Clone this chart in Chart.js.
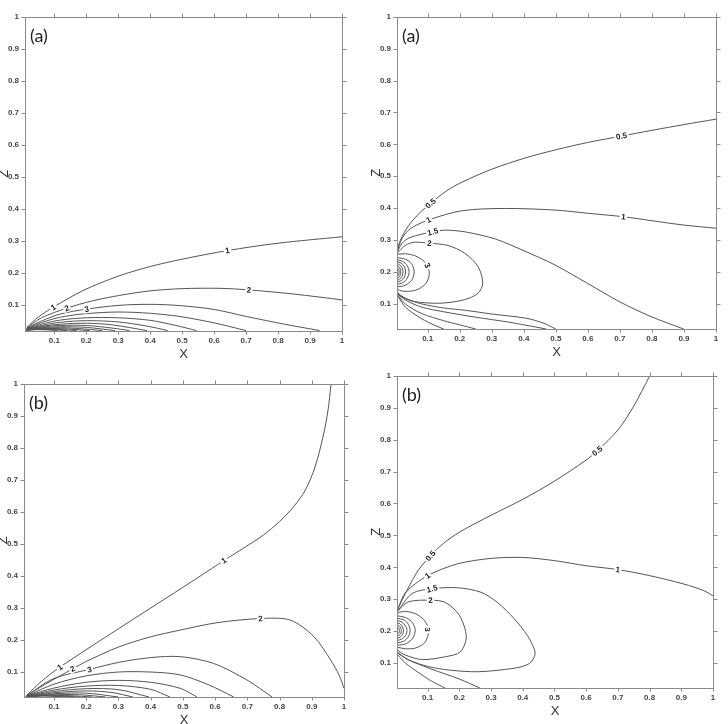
<!DOCTYPE html>
<html><head><meta charset="utf-8">
<script src="https://cdn.jsdelivr.net/npm/chart.js@4/dist/chart.umd.min.js"></script>
<style>
html,body{margin:0;padding:0;background:#fff;}
body{width:728px;height:724px;position:relative;overflow:hidden;}
canvas{position:absolute;}
</style></head>
<body>
<canvas id="c1"></canvas><canvas id="c2"></canvas><canvas id="c3"></canvas><canvas id="c4"></canvas>
<script>
// ---------- tick values ----------
const xTicks = [0.1,0.2,0.3,0.4,0.5,0.6,0.7,0.8,0.9,1];
const zTicks = [0.1,0.2,0.3,0.4,0.5,0.6,0.7,0.8,0.9,1];
const xTitle = 'X', zTitle = 'Z';

// ---------- panel (a) left : contour lines [x, z] ----------
const A1_c1 = [[0.014,0.03],[0.05,0.062],[0.097,0.093],[0.19,0.145],[0.3,0.19],[0.4,0.22],[0.5,0.243],[0.642,0.27],[0.8,0.293],[1.0,0.313]];
const A1_c2 = [[0.014,0.028],[0.06,0.06],[0.139,0.09],[0.22,0.113],[0.305,0.13],[0.4,0.144],[0.5,0.151],[0.618,0.152],[0.709,0.147],[0.85,0.134],[1.0,0.116]];
const A1_c3 = [[0.014,0.027],[0.06,0.05],[0.12,0.072],[0.201,0.087],[0.305,0.099],[0.4,0.102],[0.493,0.098],[0.6,0.086],[0.701,0.064],[0.82,0.04],[0.93,0.02]];
const A1_c4 = [[0.014,0.026],[0.06,0.045],[0.12,0.062],[0.2,0.073],[0.3,0.078],[0.4,0.074],[0.493,0.064],[0.6,0.044],[0.70,0.02]];
const A1_c5 = [[0.014,0.025],[0.06,0.04],[0.12,0.053],[0.2,0.06],[0.3,0.06],[0.4,0.052],[0.48,0.036],[0.545,0.02]];
const A1_c6 = [[0.014,0.025],[0.06,0.036],[0.12,0.046],[0.2,0.051],[0.3,0.047],[0.39,0.034],[0.455,0.02]];
const A1_c7 = [[0.014,0.024],[0.06,0.033],[0.12,0.04],[0.2,0.043],[0.28,0.038],[0.39,0.02]];
const A1_c8 = [[0.014,0.024],[0.06,0.031],[0.12,0.036],[0.2,0.036],[0.28,0.028],[0.335,0.02]];
const A1_c9 = [[0.014,0.023],[0.06,0.029],[0.12,0.032],[0.2,0.03],[0.29,0.02]];
const A1_c10 = [[0.014,0.023],[0.06,0.027],[0.12,0.029],[0.18,0.026],[0.25,0.02]];
const A1_c11 = [[0.014,0.022],[0.06,0.026],[0.12,0.026],[0.21,0.02]];
const A1_c12 = [[0.014,0.022],[0.06,0.025],[0.11,0.024],[0.17,0.02]];
const A1_c13 = [[0.012,0.021],[0.05,0.024],[0.09,0.023],[0.14,0.02]];
const A1_c14 = [[0.012,0.021],[0.04,0.023],[0.08,0.022],[0.11,0.02]];
const A1_labels = [['1',0.097,0.093],['2',0.139,0.09],['3',0.201,0.087],['1',0.642,0.27],['2',0.709,0.147]];

// ---------- panel (a) right ----------
const A2_c05 = [[0.004,0.265],[0.015,0.3],[0.04,0.345],[0.075,0.385],[0.109,0.415],[0.16,0.455],[0.208,0.482],[0.3,0.522],[0.4,0.556],[0.5,0.583],[0.6,0.606],[0.705,0.626],[0.8,0.644],[0.9,0.662],[1.0,0.679]];
const A2_c1 = [[0.004,0.262],[0.02,0.305],[0.045,0.335],[0.103,0.363],[0.208,0.392],[0.343,0.399],[0.497,0.394],[0.599,0.384],[0.711,0.373],[0.797,0.361],[0.899,0.347],[1.0,0.337]];
const A2_c15 = [[0.004,0.26],[0.02,0.29],[0.045,0.308],[0.116,0.326],[0.156,0.331],[0.22,0.325],[0.312,0.303],[0.401,0.266],[0.497,0.222],[0.599,0.164],[0.698,0.107],[0.797,0.06],[0.899,0.021]];
const A2_c2 = [[0.004,0.258],[0.03,0.283],[0.058,0.293],[0.105,0.29],[0.163,0.283],[0.215,0.259],[0.257,0.217],[0.272,0.165],[0.257,0.133],[0.215,0.113],[0.142,0.102],[0.058,0.107],[0.017,0.123],[0.004,0.139]];
const A2_c3 = [[0.004,0.255],[0.03,0.257],[0.062,0.25],[0.09,0.232],[0.104,0.205],[0.104,0.186],[0.095,0.165],[0.075,0.148],[0.05,0.14],[0.02,0.14],[0.004,0.146]];
const A2_c4 = [[0.004,0.245],[0.03,0.24],[0.05,0.225],[0.058,0.2],[0.05,0.174],[0.03,0.158],[0.004,0.153]];
const A2_c5 = [[0.004,0.238],[0.022,0.233],[0.036,0.22],[0.042,0.2],[0.036,0.18],[0.022,0.166],[0.004,0.161]];
const A2_c6 = [[0.004,0.232],[0.016,0.228],[0.027,0.217],[0.031,0.2],[0.027,0.183],[0.016,0.172],[0.004,0.168]];
const A2_c7 = [[0.004,0.226],[0.012,0.223],[0.02,0.213],[0.023,0.2],[0.02,0.187],[0.012,0.177],[0.004,0.174]];
const A2_c8 = [[0.004,0.22],[0.01,0.217],[0.014,0.21],[0.016,0.2],[0.014,0.19],[0.01,0.183],[0.004,0.18]];
const A2_c9 = [[0.004,0.213],[0.008,0.211],[0.011,0.2],[0.008,0.189],[0.004,0.187]];
const A2_b1 = [[0.004,0.135],[0.03,0.118],[0.08,0.1],[0.15,0.087],[0.215,0.08],[0.3,0.068],[0.406,0.055],[0.46,0.04],[0.5,0.021]];
const A2_b2 = [[0.004,0.133],[0.03,0.112],[0.08,0.09],[0.15,0.075],[0.25,0.058],[0.35,0.043],[0.406,0.033],[0.47,0.021]];
const A2_b3 = [[0.004,0.131],[0.03,0.1],[0.08,0.07],[0.15,0.047],[0.2,0.034],[0.25,0.021]];
const A2_b4 = [[0.004,0.129],[0.03,0.09],[0.07,0.06],[0.11,0.038],[0.15,0.021]];
const A2_labels = [['0.5',0.109,0.415],['1',0.103,0.363],['1.5',0.116,0.326],['2',0.105,0.29],['3',0.099,0.22],['0.5',0.705,0.626],['1',0.711,0.373]];

// ---------- panel (b) left ----------
const B1_c1 = [[0.015,0.027],[0.06,0.07],[0.118,0.115],[0.3,0.235],[0.45,0.332],[0.55,0.397],[0.627,0.448],[0.69,0.488],[0.75,0.528],[0.8,0.57],[0.845,0.618],[0.88,0.668],[0.91,0.74],[0.935,0.835],[0.95,0.915],[0.96,1.0]];
const B1_c2 = [[0.015,0.026],[0.07,0.06],[0.158,0.11],[0.2,0.133],[0.3,0.178],[0.4,0.21],[0.492,0.231],[0.606,0.254],[0.741,0.267],[0.834,0.262],[0.907,0.21],[0.959,0.137],[0.985,0.09],[1.0,0.049]];
const B1_c3 = [[0.015,0.026],[0.1,0.08],[0.21,0.108],[0.3,0.13],[0.4,0.145],[0.492,0.148],[0.595,0.127],[0.699,0.075],[0.777,0.022]];
const B1_c4 = [[0.015,0.025],[0.1,0.062],[0.2,0.088],[0.3,0.1],[0.4,0.1],[0.492,0.091],[0.58,0.06],[0.658,0.022]];
const B1_c5 = [[0.015,0.025],[0.1,0.05],[0.2,0.068],[0.3,0.074],[0.4,0.068],[0.492,0.049],[0.544,0.022]];
const B1_c6 = [[0.015,0.024],[0.1,0.044],[0.2,0.056],[0.3,0.058],[0.4,0.046],[0.46,0.022]];
const B1_c7 = [[0.015,0.024],[0.1,0.039],[0.2,0.048],[0.3,0.045],[0.395,0.022]];
const B1_c8 = [[0.015,0.023],[0.1,0.035],[0.2,0.041],[0.28,0.036],[0.345,0.022]];
const B1_c9 = [[0.015,0.023],[0.1,0.032],[0.2,0.034],[0.3,0.022]];
const B1_c10 = [[0.015,0.023],[0.1,0.029],[0.18,0.029],[0.26,0.022]];
const B1_c11 = [[0.015,0.023],[0.08,0.027],[0.15,0.026],[0.22,0.022]];
const B1_c12 = [[0.012,0.022],[0.06,0.026],[0.12,0.025],[0.18,0.022]];
const B1_c13 = [[0.012,0.022],[0.05,0.025],[0.1,0.024],[0.145,0.022]];
const B1_labels = [['1',0.118,0.115],['2',0.158,0.11],['3',0.21,0.108],['1',0.627,0.448],['2',0.741,0.267]];

// ---------- panel (b) right ----------
const B2_c05 = [[0.004,0.265],[0.037,0.332],[0.07,0.39],[0.109,0.436],[0.15,0.475],[0.2,0.51],[0.3,0.563],[0.4,0.613],[0.5,0.67],[0.6,0.736],[0.635,0.765],[0.7,0.83],[0.75,0.905],[0.8,0.999]];
const B2_c1 = [[0.004,0.263],[0.03,0.32],[0.1,0.374],[0.195,0.411],[0.3,0.428],[0.4,0.431],[0.5,0.421],[0.6,0.405],[0.7,0.393],[0.8,0.374],[0.907,0.348],[0.971,0.327],[1.0,0.311]];
const B2_c15 = [[0.004,0.26],[0.051,0.318],[0.114,0.333],[0.195,0.336],[0.268,0.322],[0.32,0.29],[0.373,0.239],[0.415,0.186],[0.436,0.145],[0.438,0.124],[0.42,0.098],[0.373,0.084],[0.26,0.073],[0.17,0.078],[0.103,0.089],[0.04,0.11],[0.004,0.135]];
const B2_c2 = [[0.004,0.263],[0.04,0.292],[0.109,0.297],[0.156,0.29],[0.2,0.25],[0.222,0.182],[0.203,0.135],[0.156,0.12],[0.084,0.111],[0.03,0.125],[0.004,0.141]];
const B2_c3 = [[0.004,0.258],[0.03,0.262],[0.061,0.255],[0.088,0.236],[0.102,0.21],[0.102,0.19],[0.09,0.163],[0.061,0.147],[0.03,0.145],[0.004,0.15]];
const B2_c4 = [[0.004,0.248],[0.03,0.243],[0.052,0.227],[0.061,0.202],[0.052,0.176],[0.03,0.16],[0.004,0.156]];
const B2_c5 = [[0.004,0.24],[0.024,0.236],[0.039,0.222],[0.045,0.202],[0.039,0.182],[0.024,0.168],[0.004,0.164]];
const B2_c6 = [[0.004,0.233],[0.018,0.229],[0.03,0.217],[0.035,0.202],[0.03,0.186],[0.018,0.175],[0.004,0.171]];
const B2_c7 = [[0.004,0.226],[0.013,0.223],[0.021,0.213],[0.024,0.202],[0.021,0.19],[0.013,0.181],[0.004,0.178]];
const B2_c8 = [[0.004,0.219],[0.011,0.216],[0.016,0.209],[0.017,0.202],[0.016,0.194],[0.011,0.188],[0.004,0.185]];
const B2_c9 = [[0.004,0.212],[0.009,0.21],[0.011,0.202],[0.009,0.194],[0.004,0.192]];
const B2_b1 = [[0.004,0.132],[0.04,0.11],[0.11,0.082],[0.2,0.05],[0.265,0.022]];
const B2_b2 = [[0.004,0.128],[0.03,0.1],[0.069,0.072],[0.11,0.045],[0.155,0.022]];
const B2_labels = [['0.5',0.109,0.436],['1',0.1,0.374],['1.5',0.114,0.333],['2',0.109,0.297],['3',0.1,0.205],['0.5',0.635,0.765],['1',0.7,0.393]];

// ---------- layout of the four panels (plot-area pixel boxes) ----------
const panels = [
  {id:'c1', L:25, T:16, R:342, B:331, xmin:0.0084, zmin:0.0187, letter:'(a)',
   lines:[A1_c1,A1_c2,A1_c3,A1_c4,A1_c5,A1_c6,A1_c7,A1_c8,A1_c9,A1_c10,A1_c11,A1_c12,A1_c13,A1_c14], labels:A1_labels},
  {id:'c2', L:397, T:16, R:716, B:329, xmin:0.0042, zmin:0.021, letter:'(a)',
   lines:[A2_c05,A2_c1,A2_c15,A2_c2,A2_c3,A2_c4,A2_c5,A2_c6,A2_c7,A2_c8,A2_c9,A2_b1,A2_b2,A2_b3,A2_b4], labels:A2_labels},
  {id:'c3', L:24, T:383, R:344, B:697, xmin:0.007, zmin:0.022, letter:'(b)',
   lines:[B1_c1,B1_c2,B1_c3,B1_c4,B1_c5,B1_c6,B1_c7,B1_c8,B1_c9,B1_c10,B1_c11,B1_c12,B1_c13], labels:B1_labels},
  {id:'c4', L:397, T:375, R:713, B:688, xmin:0.0035, zmin:0.022, letter:'(b)',
   lines:[B2_c05,B2_c1,B2_c15,B2_c2,B2_c3,B2_c4,B2_c5,B2_c6,B2_c7,B2_c8,B2_c9,B2_b1,B2_b2], labels:B2_labels}
];

const fmt = v => (Math.abs(v-1) < 1e-9 ? '1' : (Math.round(v*10)/10).toFixed(1));
const TICKFONT = {family:'"Liberation Sans", Arial, sans-serif', size:8, weight:'bold'};
const FRAME = '#8a8a8a';

function decor(p){
  return {
    id:'decor_'+p.id,
    afterDatasetsDraw(chart){
      const {ctx, scales:{x, y}} = chart;
      ctx.save();
      ctx.font = 'bold 8px "Liberation Sans", Arial, sans-serif';
      ctx.textAlign = 'center'; ctx.textBaseline = 'middle';
      p.labels.forEach(([t, lx, lz]) => {
        const px = x.getPixelForValue(lx), py = y.getPixelForValue(lz);
        let best = 1e9, ang = 0;
        chart.data.datasets.forEach(ds => {
          const d = ds.data;
          for (let i = 0; i < d.length-1; i++){
            const x1 = x.getPixelForValue(d[i].x), y1 = y.getPixelForValue(d[i].y);
            const x2 = x.getPixelForValue(d[i+1].x), y2 = y.getPixelForValue(d[i+1].y);
            const dx = x2-x1, dy = y2-y1, L2 = dx*dx+dy*dy || 1;
            let u = ((px-x1)*dx + (py-y1)*dy)/L2; u = Math.max(0, Math.min(1, u));
            const qx = x1+u*dx-px, qy = y1+u*dy-py, dist = qx*qx+qy*qy;
            if (dist < best){ best = dist; ang = Math.atan2(dy, dx); }
          }
        });
        if (ang > Math.PI/2) ang -= Math.PI;
        if (ang < -Math.PI/2) ang += Math.PI;
        const w = ctx.measureText(t).width;
        ctx.save();
        ctx.translate(px, py); ctx.rotate(ang);
        ctx.fillStyle = '#fff'; ctx.fillRect(-w/2-1.5, -4, w+3, 8);
        ctx.fillStyle = '#222'; ctx.fillText(t, 0, 0.5);
        ctx.restore();
      });
      ctx.restore();
    },
    afterDraw(chart){
      const {ctx, chartArea:a, scales:{x, y}} = chart;
      ctx.save();
      ctx.strokeStyle = FRAME; ctx.lineWidth = 1;
      const l = Math.round(a.left)+0.5, t = Math.round(a.top)+0.5, r = Math.round(a.right)+0.5, b = Math.round(a.bottom)+0.5;
      ctx.strokeRect(l, t, r-l, b-t);
      ctx.beginPath();
      xTicks.forEach(v => { const px = Math.round(x.getPixelForValue(v))+0.5;
        ctx.moveTo(px, t); ctx.lineTo(px, t-4); ctx.moveTo(px, b); ctx.lineTo(px, b+3); });
      zTicks.forEach(v => { const py = Math.round(y.getPixelForValue(v))+0.5;
        ctx.moveTo(l, py); ctx.lineTo(l-4, py); ctx.moveTo(r, py); ctx.lineTo(r+4, py); });
      ctx.stroke();
      ctx.fillStyle = '#333';
      ctx.font = '13px "Liberation Sans", Arial, sans-serif';
      ctx.textAlign = 'center'; ctx.textBaseline = 'middle';
      ctx.fillText(xTitle, (a.left+a.right)/2, a.bottom+23);
      ctx.save();
      ctx.translate(a.left-21, (a.top+a.bottom)/2); ctx.rotate(-Math.PI/2);
      ctx.fillText(zTitle, 0, 0);
      ctx.restore();
      ctx.fillStyle = '#222';
      ctx.font = '18px Lato, "Open Sans", sans-serif';
      ctx.textAlign = 'left';
      ctx.fillText(p.letter, a.left+5, a.top+19);
      ctx.restore();
    }
  };
}

function mkChart(p){
  const AW = 34, PT = 10, PR = 10, XH = 34;
  const cv = document.getElementById(p.id);
  const w = (p.R-p.L)+AW+PR, h = (p.B-p.T)+PT+XH;
  cv.width = w; cv.height = h;
  cv.style.left = (p.L-AW)+'px'; cv.style.top = (p.T-PT)+'px';
  cv.style.width = w+'px'; cv.style.height = h+'px';
  new Chart(cv, {
    type:'scatter',
    data:{datasets: p.lines.map(pts => ({
      data: pts.map(([px, pz]) => ({x:px, y:pz})),
      showLine:true, pointRadius:0, borderColor:'#555', borderWidth:1, tension:0.3, fill:false
    }))},
    options:{
      responsive:false, animation:false, devicePixelRatio:1, events:[],
      layout:{padding:{top:PT, right:PR, left:0, bottom:0}},
      plugins:{legend:{display:false}, tooltip:{enabled:false}},
      scales:{
        x:{type:'linear', min:p.xmin, max:1,
           grid:{display:false, drawTicks:false}, border:{display:false},
           afterBuildTicks: s => { s.ticks = xTicks.map(v => ({value:v})); },
           afterFit: s => { s.height = XH; },
           ticks:{padding:5, font:TICKFONT, color:'#444', maxRotation:0, autoSkip:false, callback: v => fmt(v)}},
        y:{type:'linear', min:p.zmin, max:1,
           grid:{display:false, drawTicks:false}, border:{display:false},
           afterBuildTicks: s => { s.ticks = zTicks.map(v => ({value:v})); },
           afterFit: s => { s.width = AW; },
           ticks:{padding:6, font:TICKFONT, color:'#444', autoSkip:false, callback: v => fmt(v)}}
      }
    },
    plugins:[decor(p)]
  });
}
panels.forEach(mkChart);
</script>
</body></html>
